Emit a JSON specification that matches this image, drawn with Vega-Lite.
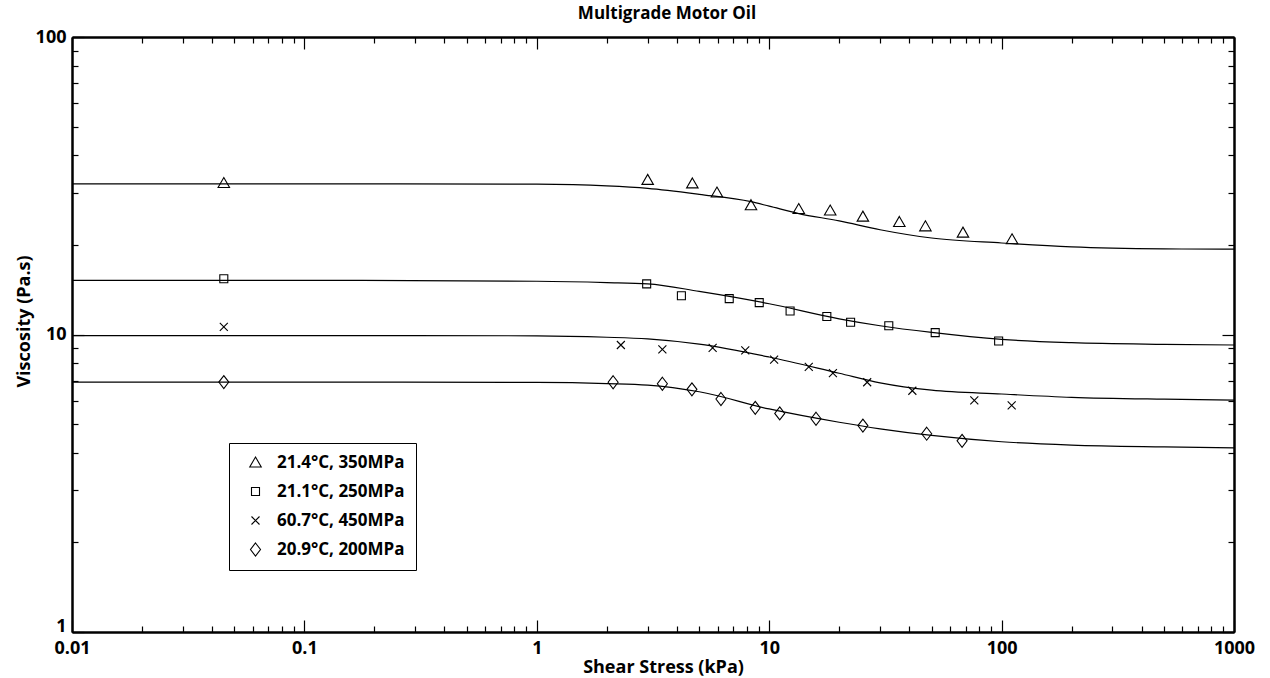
{
  "$schema": "https://vega.github.io/schema/vega-lite/v6.json",
  "autosize": {"type": "none"},
  "padding": {"left": 72, "top": 37, "right": 36, "bottom": 46},
  "width": 1162,
  "height": 595,
  "background": "white",
  "title": {"text": "Multigrade Motor Oil", "font": "Open Sans", "fontSize": 17, "fontWeight": "bold", "color": "black", "anchor": "middle", "frame": "group", "dx": 14, "offset": 5},
  "config": {
    "view": {"stroke": null},
    "axis": {"grid": false, "domainColor": "black", "domainWidth": 2, "tickColor": "black", "tickWidth": 1.2, "labelFont": "Open Sans", "labelFontWeight": "bold", "labelFontSize": 17, "labelColor": "black", "titleFont": "Open Sans", "titleFontWeight": "bold", "titleFontSize": 18, "titleColor": "black"},
    "legend": {"labelFont": "Open Sans", "labelFontWeight": "bold", "labelFontSize": 16, "labelColor": "black"}
  },
  "datasets": {
    "curves": [
      {"series": "A", "x": 0.01, "y": 32.1}, {"series": "A", "x": 0.1, "y": 32.1}, {"series": "A", "x": 1, "y": 32.0}, {"series": "A", "x": 2, "y": 31.6}, {"series": "A", "x": 3, "y": 31.0}, {"series": "A", "x": 5, "y": 29.6}, {"series": "A", "x": 8.35, "y": 27.95}, {"series": "A", "x": 10, "y": 27.0}, {"series": "A", "x": 13.4, "y": 25.5}, {"series": "A", "x": 20, "y": 24.1}, {"series": "A", "x": 30, "y": 22.5}, {"series": "A", "x": 50, "y": 21.1}, {"series": "A", "x": 100, "y": 20.3}, {"series": "A", "x": 200, "y": 19.7}, {"series": "A", "x": 500, "y": 19.4}, {"series": "A", "x": 1000, "y": 19.35},
      {"series": "B", "x": 0.01, "y": 15.2}, {"series": "B", "x": 0.1, "y": 15.2}, {"series": "B", "x": 1, "y": 15.1}, {"series": "B", "x": 2, "y": 14.95}, {"series": "B", "x": 3, "y": 14.8}, {"series": "B", "x": 5, "y": 13.96}, {"series": "B", "x": 10, "y": 12.69}, {"series": "B", "x": 20, "y": 11.29}, {"series": "B", "x": 30, "y": 10.7}, {"series": "B", "x": 50, "y": 10.16}, {"series": "B", "x": 100, "y": 9.63}, {"series": "B", "x": 200, "y": 9.39}, {"series": "B", "x": 500, "y": 9.27}, {"series": "B", "x": 1000, "y": 9.22},
      {"series": "C", "x": 0.01, "y": 9.92}, {"series": "C", "x": 0.1, "y": 9.92}, {"series": "C", "x": 1, "y": 9.9}, {"series": "C", "x": 2, "y": 9.79}, {"series": "C", "x": 3, "y": 9.66}, {"series": "C", "x": 5, "y": 9.28}, {"series": "C", "x": 10, "y": 8.4}, {"series": "C", "x": 20, "y": 7.41}, {"series": "C", "x": 30, "y": 6.88}, {"series": "C", "x": 50, "y": 6.5}, {"series": "C", "x": 100, "y": 6.31}, {"series": "C", "x": 200, "y": 6.15}, {"series": "C", "x": 500, "y": 6.06}, {"series": "C", "x": 1000, "y": 6.02},
      {"series": "D", "x": 0.01, "y": 6.92}, {"series": "D", "x": 0.1, "y": 6.92}, {"series": "D", "x": 1, "y": 6.9}, {"series": "D", "x": 2, "y": 6.84}, {"series": "D", "x": 3, "y": 6.76}, {"series": "D", "x": 5, "y": 6.42}, {"series": "D", "x": 10, "y": 5.62}, {"series": "D", "x": 20, "y": 5.07}, {"series": "D", "x": 30, "y": 4.82}, {"series": "D", "x": 50, "y": 4.58}, {"series": "D", "x": 100, "y": 4.36}, {"series": "D", "x": 200, "y": 4.25}, {"series": "D", "x": 500, "y": 4.19}, {"series": "D", "x": 1000, "y": 4.16}
    ],
    "points": [
      {"label": "21.4°C, 350MPa", "x": 0.045, "y": 32.3}, {"label": "21.4°C, 350MPa", "x": 3.0, "y": 33.1}, {"label": "21.4°C, 350MPa", "x": 4.67, "y": 32.2}, {"label": "21.4°C, 350MPa", "x": 5.96, "y": 30.0}, {"label": "21.4°C, 350MPa", "x": 8.35, "y": 27.2}, {"label": "21.4°C, 350MPa", "x": 13.4, "y": 26.4}, {"label": "21.4°C, 350MPa", "x": 18.3, "y": 26.1}, {"label": "21.4°C, 350MPa", "x": 25.3, "y": 24.9}, {"label": "21.4°C, 350MPa", "x": 36.3, "y": 23.9}, {"label": "21.4°C, 350MPa", "x": 47.0, "y": 23.1}, {"label": "21.4°C, 350MPa", "x": 68.2, "y": 22.0}, {"label": "21.4°C, 350MPa", "x": 110.9, "y": 20.9},
      {"label": "21.1°C, 250MPa", "x": 0.045, "y": 15.4}, {"label": "21.1°C, 250MPa", "x": 2.97, "y": 14.8}, {"label": "21.1°C, 250MPa", "x": 4.19, "y": 13.5}, {"label": "21.1°C, 250MPa", "x": 6.73, "y": 13.2}, {"label": "21.1°C, 250MPa", "x": 9.06, "y": 12.8}, {"label": "21.1°C, 250MPa", "x": 12.3, "y": 12.0}, {"label": "21.1°C, 250MPa", "x": 17.7, "y": 11.5}, {"label": "21.1°C, 250MPa", "x": 22.4, "y": 11.0}, {"label": "21.1°C, 250MPa", "x": 32.7, "y": 10.7}, {"label": "21.1°C, 250MPa", "x": 51.8, "y": 10.15}, {"label": "21.1°C, 250MPa", "x": 97.1, "y": 9.51},
      {"label": "60.7°C, 450MPa", "x": 0.045, "y": 10.6}, {"label": "60.7°C, 450MPa", "x": 2.3, "y": 9.22}, {"label": "60.7°C, 450MPa", "x": 3.47, "y": 8.92}, {"label": "60.7°C, 450MPa", "x": 5.71, "y": 9.01}, {"label": "60.7°C, 450MPa", "x": 7.89, "y": 8.85}, {"label": "60.7°C, 450MPa", "x": 10.5, "y": 8.23}, {"label": "60.7°C, 450MPa", "x": 14.8, "y": 7.79}, {"label": "60.7°C, 450MPa", "x": 18.8, "y": 7.41}, {"label": "60.7°C, 450MPa", "x": 26.4, "y": 6.91}, {"label": "60.7°C, 450MPa", "x": 41.3, "y": 6.47}, {"label": "60.7°C, 450MPa", "x": 76.3, "y": 6.01}, {"label": "60.7°C, 450MPa", "x": 110.5, "y": 5.78},
      {"label": "20.9°C, 200MPa", "x": 0.045, "y": 6.92}, {"label": "20.9°C, 200MPa", "x": 2.13, "y": 6.91}, {"label": "20.9°C, 200MPa", "x": 3.47, "y": 6.83}, {"label": "20.9°C, 200MPa", "x": 4.65, "y": 6.54}, {"label": "20.9°C, 200MPa", "x": 6.2, "y": 6.07}, {"label": "20.9°C, 200MPa", "x": 8.71, "y": 5.67}, {"label": "20.9°C, 200MPa", "x": 11.1, "y": 5.43}, {"label": "20.9°C, 200MPa", "x": 15.9, "y": 5.21}, {"label": "20.9°C, 200MPa", "x": 25.3, "y": 4.94}, {"label": "20.9°C, 200MPa", "x": 47.6, "y": 4.64}, {"label": "20.9°C, 200MPa", "x": 67.6, "y": 4.39}
    ]
  },
  "resolve": {"axis": {"x": "independent", "y": "independent"}},
  "layer": [
    {
      "data": {"name": "curves"},
      "mark": {"type": "line", "color": "black", "strokeWidth": 1.2, "interpolate": "monotone"},
      "encoding": {
        "x": {"field": "x", "type": "quantitative", "scale": {"type": "log", "domain": [0.01, 1000], "nice": false},
          "axis": {"orient": "bottom", "values": [0.01, 0.1, 1, 10, 100, 1000], "format": "~g", "tickSize": -12, "labelPadding": 19, "labelFlush": false, "labelFont": "Open Sans", "labelFontSize": 18, "labelFontWeight": "bold", "labelColor": "black", "title": "Shear Stress (kPa)", "titleX": 591, "titleY": 40, "titleBaseline": "alphabetic"}},
        "y": {"field": "y", "type": "quantitative", "scale": {"type": "log", "domain": [1, 100], "nice": false},
          "axis": {"orient": "left", "values": [1, 10, 100], "format": "~g", "tickSize": -12, "labelPadding": 18, "labelFlush": false, "labelOffset": {"condition": {"test": "datum.value === 1", "value": -6}, "value": 0}, "labelFont": "Open Sans", "labelFontSize": 18, "labelFontWeight": "bold", "labelColor": "black", "title": "Viscosity (Pa.s)", "titleX": -43, "titleY": 284, "titleAngle": -90, "titleBaseline": "alphabetic"}},
        "detail": {"field": "series"}
      }
    },
    {
      "data": {"name": "points"},
      "transform": [{"filter": "datum.label === '21.4°C, 350MPa' || datum.label === '21.1°C, 250MPa'"}],
      "mark": {"type": "point", "filled": false, "stroke": "black", "strokeWidth": 1.1, "size": 100, "opacity": 1},
      "encoding": {
        "x": {"field": "x", "type": "quantitative", "axis": {"orient": "bottom", "values": [0.02, 0.03, 0.04, 0.05, 0.06, 0.07, 0.08, 0.09, 0.2, 0.3, 0.4, 0.5, 0.6, 0.7, 0.8, 0.9, 2, 3, 4, 5, 6, 7, 8, 9, 20, 30, 40, 50, 60, 70, 80, 90, 200, 300, 400, 500, 600, 700, 800, 900], "tickSize": -6, "labels": false, "title": null}},
        "y": {"field": "y", "type": "quantitative", "axis": {"orient": "left", "values": [2, 3, 4, 5, 6, 7, 8, 9, 20, 30, 40, 50, 60, 70, 80, 90], "tickSize": -6, "labels": false, "title": null}},
        "shape": {"field": "label", "type": "nominal", "sort": null,
          "scale": {"domain": ["21.4°C, 350MPa", "21.1°C, 250MPa", "60.7°C, 450MPa", "20.9°C, 200MPa"],
            "range": ["M0,-1.1L1.15,0.9L-1.15,0.9Z", "M-0.8,-0.8L0.8,-0.8L0.8,0.8L-0.8,0.8Z", "M-0.8,-0.8L0.8,0.8M-0.8,0.8L0.8,-0.8", "M0,-1.3L1,0L0,1.3L-1,0Z"]},
          "legend": {"title": null, "orient": "none", "legendX": 157, "legendY": 406, "strokeColor": "black", "fillColor": "white", "padding": 11, "symbolOffset": 7, "symbolSize": 100, "symbolStrokeColor": "black", "symbolStrokeWidth": 1.1, "symbolFillColor": "transparent", "labelOffset": 13, "rowPadding": 11, "labelFontSize": 17}}
      }
    },
    {
      "data": {"name": "points"},
      "transform": [{"filter": "datum.label === '60.7°C, 450MPa'"}],
      "mark": {"type": "point", "filled": false, "stroke": "black", "strokeWidth": 1.1, "size": 100, "opacity": 1},
      "encoding": {
        "x": {"field": "x", "type": "quantitative", "axis": {"orient": "top", "values": [0.01, 0.1, 1, 10, 100, 1000], "tickSize": -12, "labels": false, "title": null}},
        "y": {"field": "y", "type": "quantitative", "axis": {"orient": "right", "values": [1, 10, 100], "tickSize": -12, "labels": false, "title": null}},
        "shape": {"field": "label", "type": "nominal"}
      }
    },
    {
      "data": {"name": "points"},
      "transform": [{"filter": "datum.label === '20.9°C, 200MPa'"}],
      "mark": {"type": "point", "filled": false, "stroke": "black", "strokeWidth": 1.1, "size": 100, "opacity": 1},
      "encoding": {
        "x": {"field": "x", "type": "quantitative", "axis": {"orient": "top", "values": [0.02, 0.03, 0.04, 0.05, 0.06, 0.07, 0.08, 0.09, 0.2, 0.3, 0.4, 0.5, 0.6, 0.7, 0.8, 0.9, 2, 3, 4, 5, 6, 7, 8, 9, 20, 30, 40, 50, 60, 70, 80, 90, 200, 300, 400, 500, 600, 700, 800, 900], "tickSize": -6, "labels": false, "title": null}},
        "y": {"field": "y", "type": "quantitative", "axis": {"orient": "right", "values": [2, 3, 4, 5, 6, 7, 8, 9, 20, 30, 40, 50, 60, 70, 80, 90], "tickSize": -6, "labels": false, "title": null}},
        "shape": {"field": "label", "type": "nominal"}
      }
    }
  ]
}
